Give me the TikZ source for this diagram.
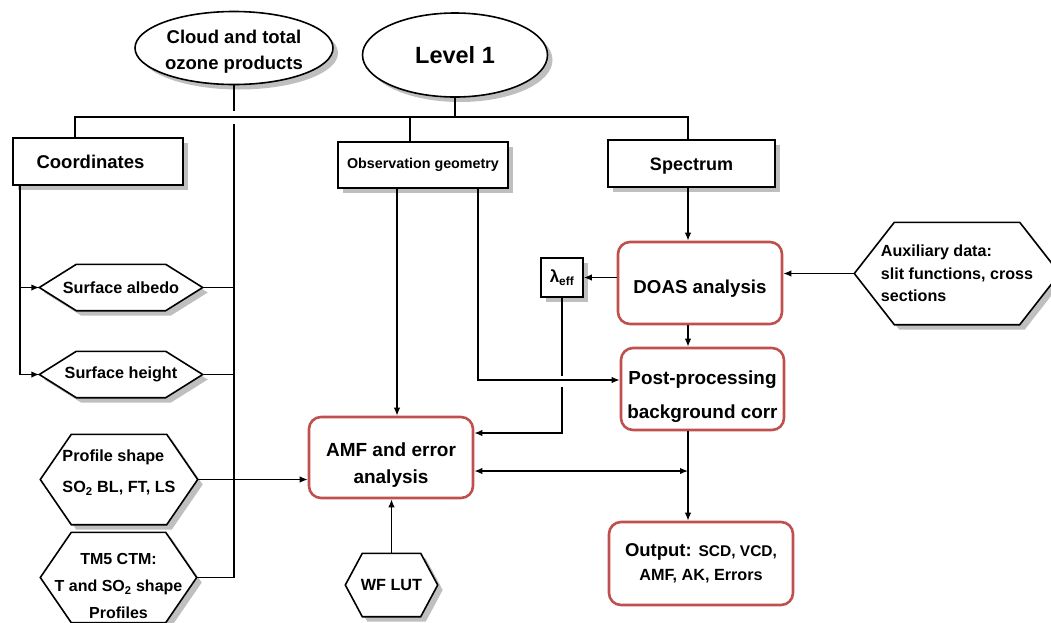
\documentclass[tikz,border=0pt]{standalone}
\usepackage{fontspec}
\setmainfont{Liberation Sans}
\usetikzlibrary{shapes.geometric,shadows,arrows.meta,backgrounds}
\definecolor{procred}{RGB}{192,80,77}
\newcommand{\hexframe}[2]{%
  \begin{scope}[on background layer]
    \fill[black!25] ([xshift=5pt,yshift=-5pt]#1.west) -- ([xshift=#2+5pt,yshift=-5pt]#1.north west) -- ([xshift=-#2+5pt,yshift=-5pt]#1.north east) -- ([xshift=5pt,yshift=-5pt]#1.east) -- ([xshift=-#2+5pt,yshift=-5pt]#1.south east) -- ([xshift=#2+5pt,yshift=-5pt]#1.south west) -- cycle;
    \draw[fill=white,line width=1.6pt] (#1.west) -- ([xshift=#2]#1.north west) -- ([xshift=-#2]#1.north east) -- (#1.east) -- ([xshift=-#2]#1.south east) -- ([xshift=#2]#1.south west) -- cycle;
  \end{scope}}
\newcommand{\uprule}[1]{\rule{0pt}{#1}}
\newcommand{\dnrule}[1]{\rule[-#1]{0pt}{0pt}}
\begin{document}
\begin{tikzpicture}[x=1pt,y=-1pt,line width=1.4pt,>={Latex[length=8pt,width=6.5pt]},every node/.style={font=\bfseries,inner sep=0pt},
  boxshadow/.style={drop shadow={shadow xshift=5pt,shadow yshift=-5pt,fill=black!25,opacity=1}},
  frame/.style={draw,fill=white,line width=1.6pt,boxshadow},
  proc/.style={draw=procred,fill=white,line width=2.6pt,rounded corners=12pt,align=center}]
\useasboundingbox (0,0) rectangle (1051,622);
\node[frame,ellipse,minimum width=198pt,minimum height=73pt,align=center,font=\fontsize{18.5}{26}\selectfont\bfseries] (cloud) at (234,48) {\uprule{21.5pt}Cloud and total\\ozone products};
\node[frame,ellipse,minimum width=185pt,minimum height=84pt,font=\fontsize{23.5}{28}\selectfont\bfseries] (lvl) at (455,55) {Level 1};
\node[frame,minimum width=170pt,minimum height=47pt,font=\fontsize{18.5}{22}\selectfont\bfseries] (coord) at (98,161.5) {Coordinates\hspace*{15pt}};
\node[frame,minimum width=170pt,minimum height=46pt,font=\fontsize{14.3}{17}\selectfont\bfseries] (obs) at (423,165) {Observation geometry};
\node[frame,minimum width=167pt,minimum height=47pt,font=\fontsize{18}{22}\selectfont\bfseries] (spec) at (691.5,163.5) {\uprule{17pt}Spectrum};
\node[minimum width=162pt,minimum height=45pt,font=\fontsize{16.2}{20}\selectfont\bfseries] (albedo) at (121,287.5) {Surface albedo};
\node[minimum width=162pt,minimum height=45pt,font=\fontsize{16.2}{20}\selectfont\bfseries] (height) at (121,374.5) {Surface height};
\node[minimum width=156pt,minimum height=89pt,align=left,font=\fontsize{16.2}{31}\selectfont\bfseries] (profile) at (119,479.5) {Profile shape\\SO\textsubscript{2} BL, FT, LS\dnrule{16pt}};
\node[minimum width=155pt,minimum height=89pt,align=center,font=\fontsize{16}{27}\selectfont\bfseries] (tm5) at (118.5,577.5) {\uprule{28pt}TM5 CTM:\\T and SO\textsubscript{2} shape\\Profiles};
\node[minimum width=91pt,minimum height=62pt,font=\fontsize{16.2}{20}\selectfont\bfseries] (wf) at (391.5,585) {WF LUT};
\node[minimum width=204pt,minimum height=101pt,align=left,font=\fontsize{16.1}{22.5}\selectfont\bfseries] (aux) at (957,273.5) {Auxiliary data:\\slit functions, cross\\sections};
\node[frame,minimum width=42pt,minimum height=39pt,font=\fontsize{17}{20}\selectfont\bfseries] (lam) at (562,277.5) {λ\textsubscript{eff}};
\node[proc,minimum width=164pt,minimum height=82pt,font=\fontsize{18.7}{24}\selectfont\bfseries] (doas) at (700,283) {\uprule{24pt}DOAS analysis};
\node[proc,minimum width=163pt,minimum height=82pt,font=\fontsize{18.9}{34}\selectfont\bfseries] (post) at (702.5,389) {\uprule{28pt}Post-processing\\background corr};
\node[proc,minimum width=164pt,minimum height=81pt,font=\fontsize{19}{27}\selectfont\bfseries] (amf) at (391,457.5) {\uprule{28pt}AMF and error\\analysis};
\node[proc,minimum width=184pt,minimum height=83pt,font=\fontsize{18.5}{24}\selectfont\bfseries] (out) at (701,563.5) {Output: {\fontsize{15.5}{24}\selectfont SCD, VCD,}\\{\fontsize{16.2}{24}\selectfont AMF, AK, Errors}};
\hexframe{albedo}{37pt}
\hexframe{height}{37pt}
\hexframe{profile}{31pt}
\hexframe{tm5}{31pt}
\hexframe{wf}{17pt}
\hexframe{aux}{40pt}
\coordinate (bl) at (75,117);
\coordinate (br) at (688,117);
\coordinate (ob) at (410,117);
\coordinate (sp) at (688,0);
\coordinate (cg) at (234,124);
\coordinate (cl) at (20,185);
\coordinate (o1) at (397,188);
\coordinate (o2) at (478,188);
\coordinate (lg) at (562,387);
\draw (lvl.south) -- (lvl.south |- bl);
\draw (coord.north -| bl) -- (bl) -- (br) -- (spec.north -| br);
\draw (ob) -- (ob |- obs.north);
\draw (cloud.south) -- ++(0,26);
\draw (cg) |- (tm5.east);
\draw (albedo.east) -- (albedo.east -| cg);
\draw (height.east) -- (height.east -| cg);
\draw[->] (cl) |- (albedo.west);
\draw[->] (cl) |- (height.west);
\draw[->] (profile.east) -- (profile.east -| amf.west);
\draw[->] (o1) -- (o1 |- amf.north);
\draw[->] (o2) |- ([yshift=9pt]post.west);
\draw[->] (doas.west |- lam.east) -- (lam.east);
\draw (lam.south) -- ++(0,78);
\draw[->] (lg) |- ([yshift=24.5pt]amf.east);
\draw[<->] ([yshift=-13.5pt]amf.east) -- ([yshift=-13.5pt]amf.east -| sp);
\draw[->] (spec.south -| sp) -- (doas.north -| sp);
\draw[->] (doas.south -| sp) -- (post.north -| sp);
\draw[->] (post.south -| sp) -- (out.north -| sp);
\draw[->] (aux.west) -- (aux.west -| doas.east);
\draw[->] (wf.north) -- (wf.north |- amf.south);
\end{tikzpicture}
\end{document}
